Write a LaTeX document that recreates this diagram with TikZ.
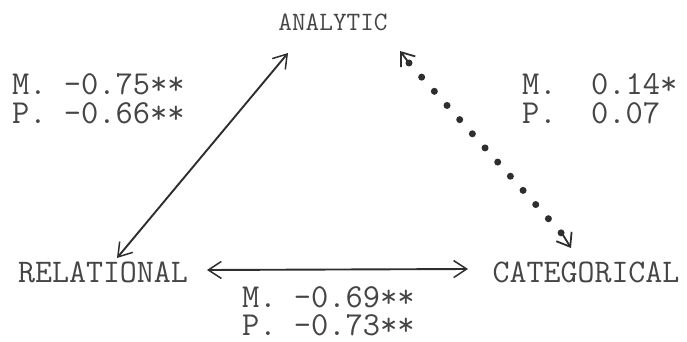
\documentclass[tikz,border=0pt]{standalone}
\usetikzlibrary{arrows.meta}
\definecolor{ink}{HTML}{2E2E2E}
\definecolor{txt}{HTML}{454545}
\tikzset{
  lbl/.style={inner sep=0pt, text=txt, font=\ttfamily\fontsize{33}{33}\selectfont},
  lbls/.style={inner sep=0pt, text=txt, font=\ttfamily\fontsize{26.5}{26.5}\selectfont},
  stat/.style={inner sep=0pt, text=txt, anchor=base west, text height=21pt, text depth=1pt, font=\ttfamily\fontsize{33.5}{28}\selectfont},
  conn/.style={draw=ink, line width=1.9pt, {Straight Barb[length=13pt,width=17pt,line width=1.5pt]}-{Straight Barb[length=13pt,width=17pt,line width=1.5pt]}},
  dotline/.style={draw=ink, line width=7pt, line cap=round, dash pattern=on 0pt off 19pt},
  tip/.style={draw=ink, line width=1.8pt, -{Straight Barb[length=12pt,width=18pt,line width=1.8pt]}}
}
\begin{document}
\begin{tikzpicture}[x=1pt,y=-1pt]
\useasboundingbox[fill=white] (0,0) rectangle (687,342);
\node[lbls] (ana) at (333,22) {ANALYTIC};
\node[lbl] (rel) at (103,272) {RELATIONAL};
\node[lbl] (cat) at (586,272) {CATEGORICAL};
\node[stat] (s1m) at (12,95) {M. -0.75**};
\node[stat] (s1p) at (12,123) {P. -0.66**};
\node[stat] (s2m) at (522,95) {M.\ \ 0.14*};
\node[stat] (s2p) at (522,123) {P.\ \ 0.07};
\node[stat] (s3m) at (242,307) {M. -0.69**};
\node[stat] (s3p) at (242,335) {P. -0.73**};
% left diagonal
\coordinate (lA) at (288,53);
\coordinate (lR) at (117,258);
\draw[conn] (lR) -- (lA);
% bottom
\coordinate (bR) at (207,270);
\coordinate (bC) at (468,269);
\draw[conn] (bR) -- (bC);
% dotted
\coordinate (dA) at (400,51);
\coordinate (dC) at (571,248);
\coordinate (dA1) at (409,63);
\coordinate (dC1) at (563,235);
\draw[dotline] (dA1) -- (dC1);
\draw[tip] (dA1) -- (dA);
\draw[tip] (dC1) -- (dC);
\end{tikzpicture}
\end{document}
